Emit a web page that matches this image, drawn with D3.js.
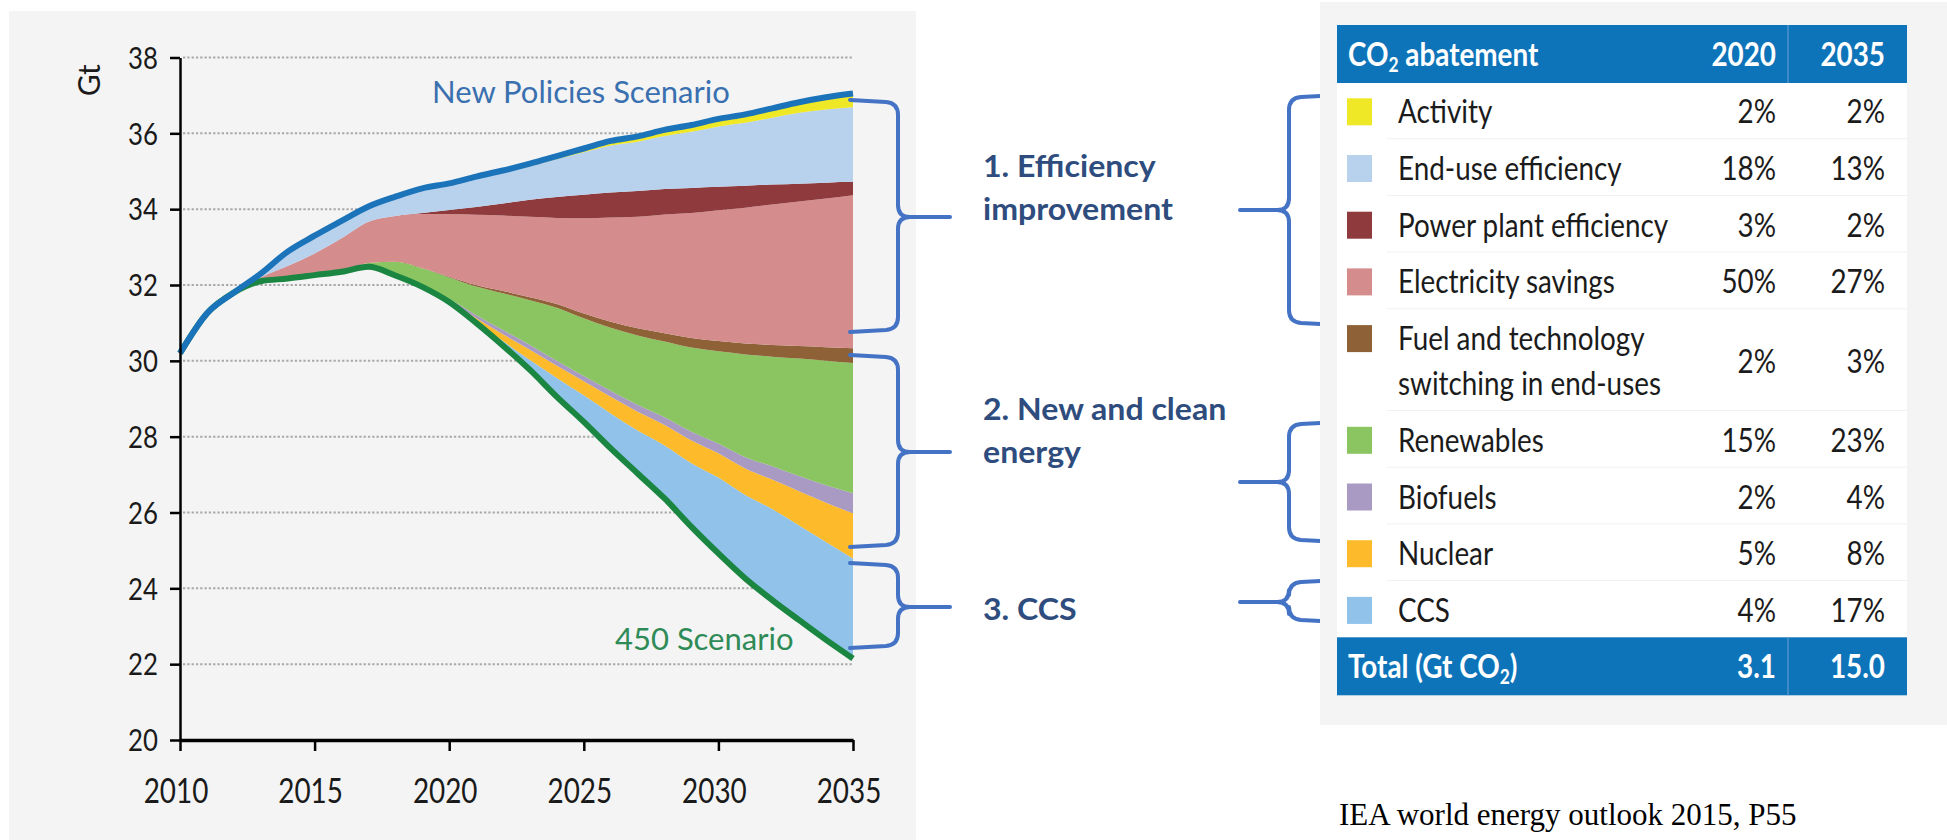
<!DOCTYPE html>
<html lang="en">
<head>
<meta charset="utf-8">
<title>CO2 abatement: New Policies Scenario vs 450 Scenario</title>
<style>
  body { margin: 0; background: #fff; }
  svg { display: block; font-family: Lato, "Open Sans", sans-serif; }
  .grid line { stroke: #a9a9a9; stroke-width: 2; stroke-dasharray: 2.3, 2; }
  .axis path, .axis line { stroke: #000; fill: none; }
  .axis text { fill: #1a1a1a; font-family: Lato, sans-serif; }
  .brace { fill: none; stroke: #4472c4; stroke-width: 4; stroke-linecap: round; stroke-linejoin: round; }
  .note { fill: #2e4c7d; font-weight: 700; font-size: 30px; }
  .cell { fill: #1b1b1b; font-size: 32px; }
  .head { fill: #fff; font-size: 32px; font-weight: 700; }
  .source { font-family: "Liberation Serif", "Times New Roman", serif; font-size: 31px; fill: #000; }
</style>
</head>
<body>
<script src="https://d3js.org/d3.v7.min.js"></script>
<script>
// ---- data (Gt CO2) ----
var years = [2010, 2011, 2012, 2013, 2014, 2015, 2016, 2017, 2018, 2019, 2020, 2021, 2022,
             2023, 2024, 2025, 2026, 2027, 2028, 2029, 2030, 2031, 2032, 2033, 2034, 2035];

var scen450 = [30.2, 31.25, 31.8, 32.1, 32.17, 32.26, 32.35, 32.48, 32.25, 31.95, 31.55, 31.0, 30.4,
               29.76, 29.05, 28.39, 27.69, 27.03, 26.37, 25.62, 24.92, 24.26, 23.69, 23.16, 22.64, 22.15];

// abatement wedges, bottom (CCS) to top (Activity)
var ccs = [0, 0, 0, 0, 0, 0, 0, 0, 0, 0, 0.01, 0.04, 0.12, 0.26, 0.5, 0.7, 0.92, 1.13, 1.4, 1.68, 2.0, 2.2, 2.4, 2.5, 2.58, 2.64];
var nuclear = [0, 0, 0, 0, 0, 0, 0, 0, 0, 0, 0.03, 0.09, 0.18, 0.27, 0.32, 0.37, 0.44, 0.5, 0.54, 0.6, 0.64, 0.7, 0.78, 0.9, 1.04, 1.19];
var biofuels = [0, 0, 0, 0, 0, 0, 0, 0, 0, 0.01, 0.04, 0.08, 0.11, 0.13, 0.13, 0.14, 0.16, 0.18, 0.2, 0.23, 0.26, 0.3, 0.35, 0.4, 0.46, 0.53];
var renewables = [0, 0, 0, 0, 0, 0, 0, 0.1, 0.36, 0.48, 0.57, 0.75, 0.97, 1.18, 1.4, 1.52, 1.66, 1.83, 2.0, 2.22, 2.43, 2.71, 2.89, 3.1, 3.28, 3.43];
var fuelSwitch = [0, 0, 0, 0, 0, 0, 0, 0, 0, 0, 0.02, 0.04, 0.06, 0.08, 0.1, 0.13, 0.16, 0.19, 0.22, 0.25, 0.27, 0.29, 0.31, 0.33, 0.36, 0.39];
var elecSavings = [0, 0, 0, 0.1, 0.33, 0.57, 0.88, 1.09, 1.21, 1.43, 1.65, 1.85, 1.99, 2.12, 2.27, 2.51, 2.75, 2.94, 3.13, 3.3, 3.45, 3.58, 3.7, 3.81, 3.92, 4.04];
var powerPlant = [0, 0, 0, 0, 0, 0, 0, 0, 0, 0.03, 0.11, 0.21, 0.32, 0.45, 0.55, 0.62, 0.66, 0.68, 0.67, 0.66, 0.62, 0.58, 0.53, 0.47, 0.42, 0.35];
var endUse = [0, 0, 0, 0.1, 0.38, 0.47, 0.46, 0.4, 0.51, 0.65, 0.65, 0.75, 0.81, 0.88, 1.0, 1.12, 1.24, 1.3, 1.4, 1.48, 1.59, 1.66, 1.76, 1.87, 1.93, 1.97];
var activity = [0, 0, 0, 0, 0, 0, 0, 0, 0, 0, 0.05, 0.05, 0.06, 0.07, 0.08, 0.1, 0.12, 0.14, 0.16, 0.18, 0.2, 0.22, 0.25, 0.28, 0.32, 0.36];

// table (top to bottom)
var categories = ["Activity", "End-use efficiency", "Power plant efficiency", "Electricity savings",
                  "Fuel and technology|switching in end-uses", "Renewables", "Biofuels", "Nuclear", "CCS"];
var share2020 = [2, 18, 3, 50, 2, 15, 2, 5, 4];
var share2035 = [2, 13, 2, 27, 3, 23, 4, 8, 17];
var colors = ["#efe826", "#b8d1ec", "#8f3a3d", "#d48c8c", "#8e6137", "#8bc561", "#a99ac3", "#fdbb2c", "#90c2ea"];
var totals = [3.1, 15.0];
var tableYears = ["2020", "2035"];

var yTicks = [20, 22, 24, 26, 28, 30, 32, 34, 36, 38];
var xTicks = [2010, 2015, 2020, 2025, 2030, 2035];

var groups = [
  { text: ["1. Efficiency", "improvement"], y: 177 },
  { text: ["2. New and clean", "energy"], y: 420 },
  { text: ["3. CCS"], y: 620 }
];

// ---- canvas ----
var svg = d3.select("body").append("svg")
  .attr("width", 1947)
  .attr("height", 840);

function label(parent, x, y, str, cls, sx, anchor) {
  return parent.append("text")
    .attr("class", cls)
    .attr("transform", "translate(" + x + "," + y + ") scale(" + sx + ",1)")
    .attr("text-anchor", anchor || "start")
    .text(str);
}

// text with a subscript "2" in the middle, e.g. CO2
function subLabel(parent, x, y, before, after, cls, sx) {
  var t = parent.append("text")
    .attr("class", cls)
    .attr("transform", "translate(" + x + "," + y + ") scale(" + sx + ",1)");
  t.append("tspan").text(before);
  t.append("tspan").attr("font-size", "20px").attr("dy", 6).text("2");
  t.append("tspan").attr("dy", -6).text(after);
  return t;
}

// curly brace; tip points towards xt
function bracePath(x0, xv, xt, y0, ym, y1, r) {
  var s = xt > xv ? 1 : -1;
  return "M" + x0 + "," + y0 +
    " L" + (xv - s * r) + "," + (y0 + 2) +
    " Q" + xv + "," + (y0 + 3) + " " + xv + "," + (y0 + r + 3) +
    " L" + xv + "," + (ym - r) +
    " Q" + xv + "," + ym + " " + (xv + s * r) + "," + ym +
    " L" + xt + "," + ym +
    " M" + (xv + s * r) + "," + ym +
    " Q" + xv + "," + ym + " " + xv + "," + (ym + r) +
    " L" + xv + "," + (y1 - r - 3) +
    " Q" + xv + "," + (y1 - 3) + " " + (xv - s * r) + "," + (y1 - 2) +
    " L" + x0 + "," + y1;
}

// ---- left panel: chart ----
svg.append("rect")
  .attr("x", 9).attr("y", 11)
  .attr("width", 907).attr("height", 829)
  .attr("fill", "#f4f4f4");

var x = d3.scaleLinear().domain([2010, 2035]).range([180, 853]);
var y = d3.scaleLinear().domain([20, 38]).range([740, 57.5]);

svg.append("g")
  .attr("class", "grid")
  .selectAll("line")
  .data(yTicks.slice(1))
  .enter()
  .append("line")
  .attr("x1", x(2010) + 3)
  .attr("x2", x(2035))
  .attr("y1", function(d) { return y(d); })
  .attr("y2", function(d) { return y(d); });

var rows = years.map(function(yr, i) {
  return {
    year: yr, base: scen450[i], ccs: ccs[i], nuclear: nuclear[i], biofuels: biofuels[i],
    renewables: renewables[i], fuel: fuelSwitch[i], elec: elecSavings[i],
    power: powerPlant[i], enduse: endUse[i], activity: activity[i]
  };
});

var keys = ["base", "ccs", "nuclear", "biofuels", "renewables", "fuel", "elec", "power", "enduse", "activity"];
var layers = d3.stack().keys(keys)(rows);

// wedge colours in stack order (reverse of the table)
var wedgeColor = colors.slice().reverse();

var area = d3.area()
  .x(function(d) { return x(d.data.year); })
  .y0(function(d) { return y(d[0]); })
  .y1(function(d) { return y(d[1]); })
  .curve(d3.curveMonotoneX);

svg.append("g")
  .selectAll("path")
  .data(layers.slice(1))
  .enter()
  .append("path")
  .attr("d", area)
  .attr("fill", function(d, i) { return wedgeColor[i]; });

var topLine = d3.line()
  .x(function(d) { return x(d.data.year); })
  .y(function(d) { return y(d[1]); })
  .curve(d3.curveMonotoneX);

// 450 first so the New Policies line sits on top where they meet
svg.append("path")
  .attr("d", topLine(layers[0]))
  .attr("fill", "none")
  .attr("stroke", "#1a8641")
  .attr("stroke-width", 6);

svg.append("path")
  .attr("d", topLine(layers[layers.length - 1]))
  .attr("fill", "none")
  .attr("stroke", "#1b73b9")
  .attr("stroke-width", 6);

// axes
var yAxis = d3.axisLeft(y).tickValues(yTicks).tickSize(10).tickSizeOuter(0);
var xAxis = d3.axisBottom(x).tickValues(xTicks).tickSize(11).tickSizeOuter(0).tickFormat(d3.format("d"));

svg.append("g")
  .attr("class", "axis")
  .attr("transform", "translate(" + x(2010) + ",0)")
  .call(yAxis)
  .call(function(g) {
    g.select(".domain").attr("stroke-width", 2.5);
    g.selectAll(".tick line").attr("stroke-width", 2.5);
    g.selectAll(".tick text")
      .attr("x", 0)
      .attr("dy", "0.36em")
      .attr("font-size", "30px")
      .attr("transform", "translate(-22,0) scale(0.86,1)");
  });

svg.append("g")
  .attr("class", "axis")
  .attr("transform", "translate(0," + y(20) + ")")
  .call(xAxis)
  .call(function(g) {
    g.select(".domain").attr("stroke-width", 3.5);
    g.selectAll(".tick line").attr("stroke-width", 2.5);
    g.selectAll(".tick text")
      .attr("y", 0)
      .attr("dy", 0)
      .attr("font-size", "34px")
      .attr("transform", "translate(-4.5,63) scale(0.82,1)");
  });

svg.append("text")
  .attr("transform", "translate(100," + y(37.4) + ") rotate(-90)")
  .attr("text-anchor", "middle")
  .attr("font-size", "30px")
  .attr("fill", "#1a1a1a")
  .text("Gt");

label(svg, 432, 103, "New Policies Scenario", "", 1).attr("font-size", "31px").attr("fill", "#3a70b0");
label(svg, 615, 650, "450 Scenario", "", 1).attr("font-size", "31px").attr("fill", "#2e8b57");

// ---- middle: braces and group names ----
var bracesLeft = [[100, 217, 332], [355, 452, 547], [563, 607, 648]];
var bracesRight = [[95, 210, 325], [422, 482, 542], [580, 602, 622]];

svg.selectAll(".brace-l")
  .data(bracesLeft)
  .enter()
  .append("path")
  .attr("class", "brace")
  .attr("d", function(d) { return bracePath(850, 898, 950, d[0], d[1], d[2], 12); });

svg.selectAll(".brace-r")
  .data(bracesRight)
  .enter()
  .append("path")
  .attr("class", "brace")
  .attr("d", function(d) { return bracePath(1340, 1289, 1240, d[0], d[1], d[2], 12); });

groups.forEach(function(g) {
  g.text.forEach(function(line, i) {
    label(svg, 983, g.y + i * 43, line, "note", 1.07);
  });
});

// ---- right panel: table ----
svg.append("rect")
  .attr("x", 1320).attr("y", 2)
  .attr("width", 627).attr("height", 723)
  .attr("fill", "#f4f4f4");

var tx = 1337, tw = 570, col1 = 1776, col2 = 1885, divX = 1788;
var headTop = 25, headH = 57, rowH = 56.7, lineH = 45;

svg.append("rect")
  .attr("x", tx).attr("y", headTop + headH)
  .attr("width", tw).attr("height", 556)
  .attr("fill", "#fff");

// row layout
var rowTop = headTop + headH;
var layout = categories.map(function(c, i) {
  var lines = c.split("|");
  var r = { name: lines, top: rowTop, base: rowTop + 41.3 };
  rowTop += rowH + (lines.length - 1) * lineH;
  r.mid = r.base + (lines.length - 1) * lineH / 2;
  return r;
});
var tableBottom = rowTop;

svg.selectAll(".sep")
  .data(layout.slice(1))
  .enter()
  .append("line")
  .attr("x1", 1387).attr("x2", tx + tw)
  .attr("y1", function(d) { return d.top; })
  .attr("y2", function(d) { return d.top; })
  .attr("stroke", "#f1f1f1")
  .attr("stroke-width", 1);

// header and total bars
[headTop, tableBottom].forEach(function(top) {
  svg.append("rect")
    .attr("x", tx).attr("y", top)
    .attr("width", tw).attr("height", headH + 1)
    .attr("fill", "#0e74ba");
  svg.append("line")
    .attr("x1", divX).attr("x2", divX)
    .attr("y1", top).attr("y2", top + headH + 1)
    .attr("stroke", "#4f92cb")
    .attr("stroke-width", 1.5);
});

subLabel(svg, 1348, headTop + 41, "CO", " abatement", "head", 0.87);
label(svg, col1, headTop + 41, tableYears[0], "head", 0.87, "end");
label(svg, col2, headTop + 41, tableYears[1], "head", 0.87, "end");

layout.forEach(function(r, i) {
  svg.append("rect")
    .attr("x", 1347).attr("y", r.base - 25)
    .attr("width", 25).attr("height", 27)
    .attr("fill", colors[i]);
  r.name.forEach(function(line, j) {
    label(svg, 1398, r.base + j * lineH, line, "cell", 0.87);
  });
  label(svg, col1, r.mid, share2020[i] + "%", "cell", 0.87, "end");
  label(svg, col2, r.mid, share2035[i] + "%", "cell", 0.87, "end");
});

subLabel(svg, 1348, tableBottom + 41, "Total (Gt CO", ")", "head", 0.87);
label(svg, col1, tableBottom + 41, d3.format(".1f")(totals[0]), "head", 0.87, "end");
label(svg, col2, tableBottom + 41, d3.format(".1f")(totals[1]), "head", 0.87, "end");

label(svg, 1339, 825, "IEA world energy outlook 2015, P55", "source", 1);
</script>
</body>
</html>
